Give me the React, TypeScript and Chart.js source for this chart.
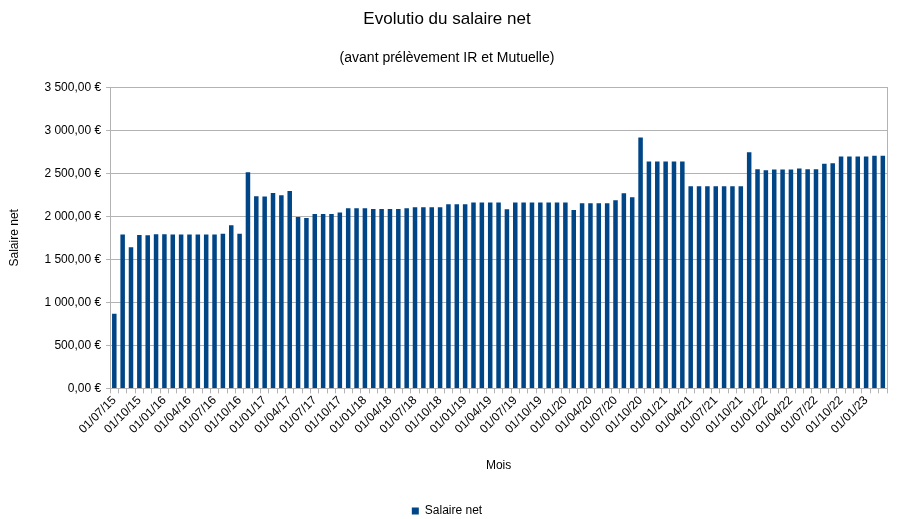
import React, { useEffect, useRef } from "react";
import { Chart, registerables } from "chart.js";

Chart.register(...registerables);

const months: string[] = [
  "01/07/15", "01/08/15", "01/09/15", "01/10/15", "01/11/15", "01/12/15",
  "01/01/16", "01/02/16", "01/03/16", "01/04/16", "01/05/16", "01/06/16",
  "01/07/16", "01/08/16", "01/09/16", "01/10/16", "01/11/16", "01/12/16",
  "01/01/17", "01/02/17", "01/03/17", "01/04/17", "01/05/17", "01/06/17",
  "01/07/17", "01/08/17", "01/09/17", "01/10/17", "01/11/17", "01/12/17",
  "01/01/18", "01/02/18", "01/03/18", "01/04/18", "01/05/18", "01/06/18",
  "01/07/18", "01/08/18", "01/09/18", "01/10/18", "01/11/18", "01/12/18",
  "01/01/19", "01/02/19", "01/03/19", "01/04/19", "01/05/19", "01/06/19",
  "01/07/19", "01/08/19", "01/09/19", "01/10/19", "01/11/19", "01/12/19",
  "01/01/20", "01/02/20", "01/03/20", "01/04/20", "01/05/20", "01/06/20",
  "01/07/20", "01/08/20", "01/09/20", "01/10/20", "01/11/20", "01/12/20",
  "01/01/21", "01/02/21", "01/03/21", "01/04/21", "01/05/21", "01/06/21",
  "01/07/21", "01/08/21", "01/09/21", "01/10/21", "01/11/21", "01/12/21",
  "01/01/22", "01/02/22", "01/03/22", "01/04/22", "01/05/22", "01/06/22",
  "01/07/22", "01/08/22", "01/09/22", "01/10/22", "01/11/22", "01/12/22",
  "01/01/23", "01/02/23", "01/03/23",
];

const salaireNet: number[] = [
  868, 1787, 1640, 1783, 1779, 1791,
  1791, 1787, 1787, 1787, 1787, 1787,
  1787, 1798, 1895, 1798, 2512, 2233,
  2229, 2271, 2244, 2295, 1992, 1981,
  2027, 2027, 2027, 2043, 2093, 2093,
  2093, 2085, 2085, 2085, 2085, 2093,
  2105, 2105, 2105, 2105, 2140, 2140,
  2140, 2159, 2159, 2159, 2159, 2081,
  2159, 2159, 2159, 2159, 2159, 2159,
  2159, 2074, 2151, 2151, 2151, 2151,
  2186, 2267, 2221, 2915, 2636, 2636,
  2636, 2636, 2636, 2349, 2349, 2349,
  2349, 2349, 2349, 2349, 2744, 2547,
  2535, 2543, 2543, 2543, 2554, 2547,
  2547, 2609, 2616, 2694, 2694, 2694,
  2694, 2702, 2702,
];

const yTicks: number[] = [0, 500, 1000, 1500, 2000, 2500, 3000, 3500];

const titleText = "Evolutio du salaire net";
const subtitleText = "(avant prélèvement IR et Mutuelle)";
const seriesName = "Salaire net";
const xTitle = "Mois";
const yTitle = "Salaire net";

function formatEuro(v: number): string {
  const fixed = v.toFixed(2);
  const [intPart, dec] = fixed.split(".");
  const withSep = intPart.replace(/\B(?=(\d{3})+(?!\d))/g, " ");
  return withSep + "," + dec + " €";
}

const FONT = "'Liberation Sans', Arial, sans-serif";
const GRID = "#b3b3b3";

export default function App() {
  const ref = useRef<HTMLCanvasElement | null>(null);

  useEffect(() => {
    if (!ref.current) return;
    const chart = new Chart(ref.current, {
      type: "bar",
      data: {
        labels: months,
        datasets: [
          {
            label: seriesName,
            data: salaireNet,
            backgroundColor: "#004586",
            borderWidth: 0,
            barPercentage: 0.54,
            categoryPercentage: 1,
            yAxisID: "y",
          },
        ],
      },
      options: {
        animation: false,
        responsive: false,
        maintainAspectRatio: false,
        layout: { padding: { left: 7, right: 16, top: 7, bottom: -8 } },
        plugins: {
          title: {
            display: true,
            text: titleText,
            color: "#000",
            font: { family: FONT, size: 17, weight: "normal" },
            padding: { top: 2, bottom: 20 },
          },
          subtitle: {
            display: true,
            text: subtitleText,
            color: "#000",
            font: { family: FONT, size: 14, weight: "normal" },
            padding: { top: 0, bottom: 21 },
          },
          legend: {
            display: true,
            position: "bottom",
            labels: {
              color: "#000",
              font: { family: FONT, size: 12 },
              boxWidth: 7,
              boxHeight: 7,
              padding: 0,
            },
          },
          tooltip: { enabled: false },
        },
        scales: {
          x: {
            offset: true,
            grid: {
              display: true,
              drawOnChartArea: false,
              drawTicks: true,
              tickLength: 5,
              color: GRID,
              offset: true,
            },
            border: { display: true, color: GRID },
            ticks: {
              autoSkip: false,
              maxRotation: 45,
              minRotation: 45,
              color: "#000",
              font: { family: FONT, size: 12 },
              padding: 0,
              callback: (_v: any, i: number) => (i % 3 === 0 ? months[i] : ""),
            },
            title: {
              display: true,
              text: xTitle,
              color: "#000",
              font: { family: FONT, size: 12 },
              padding: { top: 22, bottom: 32 },
            },
          },
          y: {
            min: 0,
            max: 3500,
            afterBuildTicks: (scale: any) => {
              scale.ticks = yTicks.map((v) => ({ value: v }));
            },
            grid: {
              color: GRID,
              drawTicks: true,
              tickLength: 4,
            },
            border: { display: true, color: GRID },
            ticks: {
              color: "#000",
              font: { family: FONT, size: 12 },
              padding: 5,
              callback: (v: any) => formatEuro(Number(v)),
            },
            title: {
              display: true,
              text: yTitle,
              color: "#000",
              font: { family: FONT, size: 12 },
              padding: { top: 0, bottom: 18 },
            },
          },
          yRight: {
            position: "right",
            min: 0,
            max: 3500,
            grid: { drawOnChartArea: false, drawTicks: false },
            border: { display: true, color: GRID },
            ticks: { display: false },
          },
        },
      },
    });
    return () => chart.destroy();
  }, []);

  return (
    <div style={{ position: "fixed", left: 0, top: 0, width: 903, height: 519, background: "#fff" }}>
      <canvas ref={ref} width={903} height={519} style={{ width: 903, height: 519 }} />
    </div>
  );
}
